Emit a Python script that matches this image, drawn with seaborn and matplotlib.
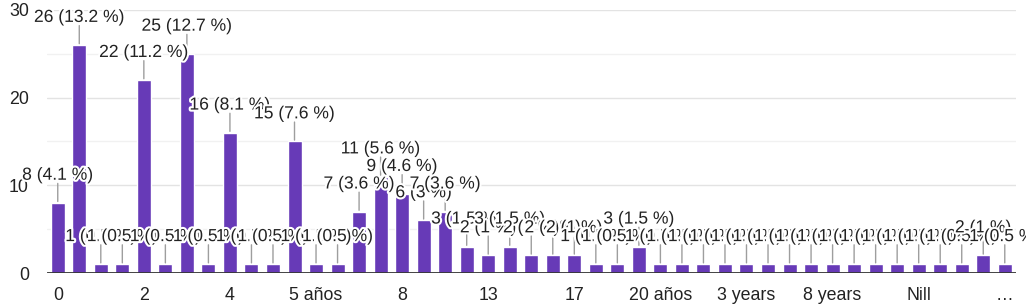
import numpy as np
import pandas as pd
import matplotlib
matplotlib.use("Agg")
import matplotlib.pyplot as plt
import matplotlib.patheffects as pe
import seaborn as sns

# categories (only every 4th label is shown in the reference)
categories = ["0", "1", "1 año", "1 year", "2", "2 años", "3", "3 años",
              "4", "4 años", "4 years", "5", "5 años", "5 years", "6", "7",
              "8", "9", "10", "12", "13", "14", "15", "16",
              "17", "18", "19", "20", "20 años", "25", "30", "2 years",
              "3 years", "4 years aprox", "6 years", "7 years", "8 years", "10 years", "Never", "N/A",
              "Nill", "None", "Not sure", "Nunca", "…"]
counts = [8, 26, 1, 1, 22, 1, 25, 1,
          16, 1, 1, 15, 1, 1, 7, 11,
          9, 6, 7, 3, 2, 3, 2, 2,
          2, 1, 1, 3, 1, 1, 1, 1,
          1, 1, 1, 1, 1, 1, 1, 1,
          1, 1, 1, 2, 1]
total = sum(counts)

df = pd.DataFrame({"answer": categories, "count": counts})

sns.set_style("white")
plt.rcParams["font.family"] = ["Liberation Sans", "DejaVu Sans"]

fig = plt.figure(figsize=(10.26, 3.08), dpi=100)
ax = fig.add_axes([0.0458, 0.1136, 0.944, 0.854])

sns.barplot(data=df, x="answer", y="count", color="#673ab7", width=0.65,
            saturation=1, ax=ax, zorder=3)

ax.set_ylim(0, 30)
ax.set_xlim(-0.5, len(categories) - 0.5)
ax.set_yticks([0, 10, 20, 30])
ax.set_yticks([5, 15, 25], minor=True)
ax.grid(axis="y", which="major", color="#e3e3e3", lw=1, zorder=0)
ax.grid(axis="y", which="minor", color="#f1f1f1", lw=1, zorder=0)
ax.axhline(0, color="#333333", lw=2, zorder=4)
for s in ax.spines.values():
    s.set_visible(False)

ax.set_xticks(range(0, len(categories), 4))
ax.set_xticklabels(categories[::4])
ax.tick_params(axis="x", length=0, pad=10, labelsize=12.8, labelcolor="#222222")
ax.tick_params(axis="y", length=0, pad=13, labelsize=12.8, labelcolor="#222222")
ax.tick_params(axis="y", which="minor", length=0)
ax.set_xlabel("")
ax.set_ylabel("")

# data labels with leader lines, google-forms style
halo = [pe.withStroke(linewidth=3, foreground="white")]
for i, c in enumerate(counts):
    pct = f"{c / total * 100:.1f}".rstrip("0").rstrip(".")
    ax.annotate("", xy=(i, c), xytext=(0, 14), textcoords="offset points",
                arrowprops=dict(arrowstyle="-", color="#9e9e9e", lw=1,
                                shrinkA=0, shrinkB=1), zorder=5)
    ax.annotate(f"{c} ({pct} %)", xy=(i, c), xytext=(0, 14.5),
                textcoords="offset points", ha="center", va="bottom",
                fontsize=12.6, color="#222222", path_effects=halo,
                zorder=6, annotation_clip=False)

fig.savefig("out.png", dpi=100)
